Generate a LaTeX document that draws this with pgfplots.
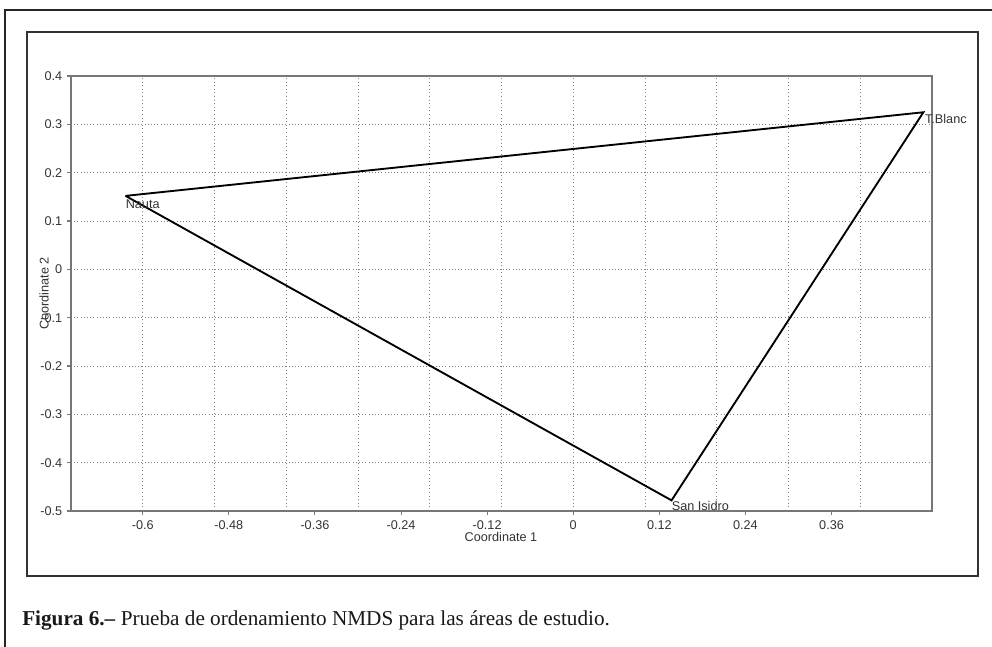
\documentclass[border=0pt]{standalone}
\usepackage{pgfplots}
\pgfplotsset{compat=1.18}
\usepackage{fontspec}
\setmainfont{Liberation Sans}
\newfontfamily\capfont{Liberation Serif}
\definecolor{txt}{HTML}{333333}
\definecolor{axc}{HTML}{777777}
\begin{document}
\begin{tikzpicture}
\useasboundingbox (0pt,0pt) rectangle (744pt,-484.5pt);
% outer frame (left and top)
\draw[line width=2pt, color=black!85] (3.75pt,-490pt) -- (3.75pt,-7.5pt) -- (750pt,-7.5pt);
% inner box
\draw[line width=1.5pt, color=black!80] (20.25pt,-24pt) rectangle (733.5pt,-432pt);
\begin{axis}[
  at={(53.25pt,-383.25pt)}, anchor=south west,
  scale only axis, width=645.75pt, height=326.25pt,
  xmin=-0.70, xmax=0.50, ymin=-0.5, ymax=0.4,
  xtick={-0.6,-0.48,-0.36,-0.24,-0.12,0,0.12,0.24,0.36},
  xticklabels={-0.6,-0.48,-0.36,-0.24,-0.12,0,0.12,0.24,0.36},
  minor xtick={-0.6,-0.5,-0.4,-0.3,-0.2,-0.1,0,0.1,0.2,0.3,0.4},
  ytick={-0.5,-0.4,-0.3,-0.2,-0.1,0,0.1,0.2,0.3,0.4},
  yticklabels={-0.5,-0.4,-0.3,-0.2,-0.1,0,0.1,0.2,0.3,0.4},
  xminorgrids=true, xmajorgrids=false, ymajorgrids=true,
  minor tick length=0pt,
  major tick length=3pt,
  tick align=outside, xtick pos=bottom, ytick pos=left,
  grid style={dotted, color=black!50, line width=0.7pt},
  minor grid style={dotted, color=black!50, line width=0.7pt},
  axis line style={color=axc, line width=1pt},
  tick style={color=axc, line width=0.8pt},
  /pgf/number format/assume math mode=true,
  ticklabel style={font=\fontsize{9.5}{11}\selectfont, color=txt},
  xticklabel style={yshift=-1pt},
  clip=false,
]
\addplot[black, line width=1.4pt, no markers] coordinates {
  (-0.624,0.152) (0.488,0.325) (0.137,-0.478) (-0.624,0.152)
};
\node[anchor=north west, inner sep=0pt, font=\fontsize{9.5}{11}\selectfont, color=txt] at (axis cs:-0.624,0.145) {Nauta};
\node[anchor=west, inner sep=0pt, font=\fontsize{9.5}{11}\selectfont, color=txt] at (axis cs:0.490,0.311) {T.Blanc};
\node[anchor=north west, inner sep=0pt, font=\fontsize{9.5}{11}\selectfont, color=txt] at (axis cs:0.137,-0.479) {San Isidro};
\end{axis}
\node[font=\fontsize{9.5}{11}\selectfont, color=txt] at (375.75pt,-403pt) {Coordinate 1};
\node[rotate=90, font=\fontsize{9.5}{11}\selectfont, color=txt] at (33pt,-220pt) {Coordinate 2};
\node[anchor=base west, inner sep=0pt, font=\capfont\fontsize{15.9}{18}\selectfont, color=black!90] at (16.5pt,-468.75pt) {\textbf{Figura 6.–} Prueba de ordenamiento NMDS para las áreas de estudio.};
\end{tikzpicture}
\end{document}
